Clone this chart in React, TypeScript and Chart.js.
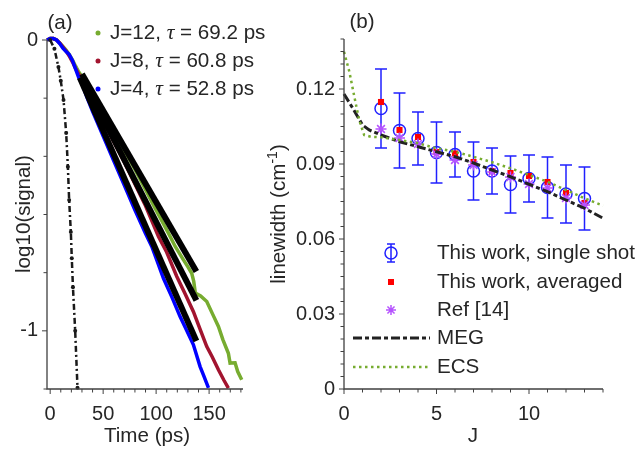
import React, { useEffect, useRef } from "react";
import { Chart, registerables } from "chart.js";
Chart.register(...registerables);

const FF = '"Liberation Sans", Arial, Helvetica, sans-serif';
const TEXT = "#262626";
const AXIS = "#404040";
const GREEN = "#77ac30";
const DRED = "#a2142f";
const BLUE = "#0000ff";
const EBLUE = "#2020ff";
const PURPLE = "#b653ff";
const LF = 20.6;

// ---------- Panel (a): decay curves ----------
const timeTickLabels = [0, 50, 100, 150];
const logTickLabels = [-1, 0];

const t12 = [-3, 0, 3, 6, 9, 12, 15, 18, 21, 24, 27, 30, 40, 50, 60, 70, 80, 90, 100, 111.6, 118, 125.8, 130, 133.6, 135.5, 137, 142, 147.8, 153, 158.8, 163, 168.2, 169.8, 174.5, 177, 180.8];
const y12 = [0, 0.005, 0.005, 0, -0.01, -0.022, -0.035, -0.05, -0.068, -0.09, -0.11, -0.125, -0.185, -0.25, -0.315, -0.38, -0.445, -0.515, -0.585, -0.664, -0.71, -0.756, -0.78, -0.802, -0.83, -0.87, -0.88, -0.899, -0.94, -0.985, -1.03, -1.077, -1.111, -1.11, -1.14, -1.168];

const t8 = [-3, 0, 3, 6, 9, 12, 15, 18, 21, 24, 27, 30, 40, 50, 60, 70, 80, 90, 102.2, 110, 119.5, 127, 135.2, 141, 147.8, 153, 158.8, 164, 168.2];
const y8 = [0, 0.005, 0.005, 0, -0.01, -0.024, -0.038, -0.055, -0.075, -0.098, -0.118, -0.135, -0.205, -0.278, -0.35, -0.42, -0.495, -0.57, -0.676, -0.73, -0.813, -0.87, -0.934, -0.99, -1.054, -1.09, -1.134, -1.17, -1.197];

const t4 = [-3, 0, 3, 6, 9, 12, 15, 18, 21, 24, 27, 30, 35, 40, 50, 60, 70, 80, 90, 95.9, 101, 107, 115, 122.6, 129, 135.2, 141.5, 145, 149.4];
const y4 = [0, 0.005, 0.005, 0, -0.012, -0.028, -0.04, -0.05, -0.07, -0.1, -0.13, -0.15, -0.2, -0.245, -0.33, -0.415, -0.5, -0.585, -0.665, -0.71, -0.76, -0.82, -0.885, -0.951, -1.0, -1.048, -1.123, -1.155, -1.196];

const fitT12 = [30, 138];
const fitY12 = [-0.117, -0.796];
const fitT8 = [30, 138];
const fitY8 = [-0.128, -0.895];
const fitT4 = [28, 138];
const fitY4 = [-0.13, -1.035];

const irfT = [0, 4, 7.8, 10, 12.6, 15.1, 16.7, 17.9, 19.5, 20.4, 21.5, 23.6, 25.8];
const irfY = [0, -0.03, -0.093, -0.14, -0.206, -0.32, -0.436, -0.55, -0.66, -0.75, -0.85, -1.0, -1.196];

const legendJ = ["J=12", "J=8", "J=4"];
const legendTau = ["69.2", "60.8", "52.8"];

// ---------- Panel (b): linewidths ----------
const Jvals = [2, 3, 4, 5, 6, 7, 8, 9, 10, 11, 12, 13];
const singleShot = [0.1122, 0.1034, 0.1002, 0.0946, 0.0938, 0.0872, 0.0872, 0.0818, 0.0842, 0.0806, 0.078, 0.0762];
const singleErr = [0.0158, 0.015, 0.0106, 0.0122, 0.009, 0.0116, 0.0092, 0.0114, 0.0094, 0.0122, 0.0116, 0.0126];
const averaged = [0.1148, 0.1036, 0.1008, 0.0948, 0.0942, 0.0908, 0.0872, 0.0864, 0.0852, 0.0828, 0.0784, 0.0744];
const ref14 = [0.104, 0.1004, 0.098, 0.094, 0.0916, 0.0896, 0.0868, 0.0848, 0.082, 0.0804, 0.0764, 0.0736];

const megJ = [0, 0.5, 1, 1.36, 2, 3, 4, 5, 6, 7, 8, 9, 10, 11, 12, 13, 14];
const megY = [0.118, 0.112, 0.1056, 0.1036, 0.1016, 0.0989, 0.0969, 0.0949, 0.0929, 0.0904, 0.0876, 0.0849, 0.0819, 0.0789, 0.0756, 0.0723, 0.0683];

const ecsJ = [0, 0.29, 0.56, 0.82, 1.09, 1.45, 2, 3, 4, 5, 6, 7, 8, 9, 10, 11, 12, 13, 14];
const ecsY = [0.1349, 0.1269, 0.1169, 0.1076, 0.1016, 0.1009, 0.1007, 0.0996, 0.0983, 0.0963, 0.0949, 0.0929, 0.0907, 0.0883, 0.0856, 0.0829, 0.0796, 0.0763, 0.0733];

const JTickLabels = [0, 5, 10];
const lwTickLabels = [0, 0.03, 0.06, 0.09, 0.12];

const legendB = ["This work, single shot", "This work, averaged", "Ref [14]", "MEG", "ECS"];

const pts = (xs: number[], ys: number[]) => xs.map((x, i) => ({ x, y: ys[i] }));

function drawAxes(chart: any, xr: [number, number, number], xMaj: number[], yr: [number, number, number], yMaj: number[]) {
  const { ctx, chartArea: ca, scales } = chart;
  const sx = scales.x, sy = scales.y;
  ctx.save();
  ctx.strokeStyle = AXIS;
  ctx.lineWidth = 1.3;
  ctx.beginPath();
  ctx.moveTo(ca.left, ca.top);
  ctx.lineTo(ca.left, ca.bottom);
  ctx.lineTo(ca.right, ca.bottom);
  ctx.stroke();
  ctx.lineWidth = 1;
  ctx.beginPath();
  const nx = Math.round((xr[1] - xr[0]) / xr[2]);
  for (let i = 0; i <= nx; i++) {
    const v = xr[0] + i * xr[2];
    const major = xMaj.some((m) => Math.abs(m - v) < 1e-9);
    const p = sx.getPixelForValue(v);
    ctx.moveTo(p, ca.bottom);
    ctx.lineTo(p, ca.bottom + (major ? 5 : 3.5));
  }
  const ny = Math.round((yr[1] - yr[0]) / yr[2]);
  for (let i = 0; i <= ny; i++) {
    const v = yr[0] + i * yr[2];
    const major = yMaj.some((m) => Math.abs(m - v) < 1e-9);
    const p = sy.getPixelForValue(v);
    ctx.moveTo(ca.left, p);
    ctx.lineTo(ca.left - (major ? 5 : 3.5), p);
  }
  ctx.stroke();
  ctx.restore();
}

function scaleOpts(min: number, max: number, ticks: number[], isY: boolean, size: number, pad: number) {
  return {
    type: "linear",
    min,
    max,
    afterBuildTicks: (s: any) => {
      s.ticks = ticks.map((v) => ({ value: v }));
    },
    afterFit: (s: any) => {
      if (isY) s.width = size;
      else s.height = size;
    },
    grid: { display: false, drawTicks: false },
    border: { display: false },
    ticks: {
      color: TEXT,
      padding: pad,
      font: { family: FF, size: 20 },
      maxRotation: 0,
      autoSkip: false,
      callback: (v: any) => String(v),
    },
  };
}

export default function App() {
  const refA = useRef<HTMLCanvasElement>(null);
  const refB = useRef<HTMLCanvasElement>(null);

  useEffect(() => {
    const lineDs = (label: string, data: any[], color: string, width: number, order: number, extra: any = {}) => ({
      label,
      data,
      showLine: true,
      borderColor: color,
      backgroundColor: color,
      borderWidth: width,
      pointRadius: 0,
      tension: 0,
      clip: false,
      order,
      ...extra,
    });

    const plugA = {
      id: "decorA",
      afterDraw(chart: any) {
        drawAxes(chart, [0, 180, 10], timeTickLabels, [-1.2, 0, 0.2], logTickLabels);
        const ctx = chart.ctx;
        ctx.save();
        ctx.fillStyle = TEXT;
        ctx.font = `${LF}px ${FF}`;
        ctx.textAlign = "center";
        ctx.textBaseline = "middle";
        ctx.fillText("(a)", 60, 23);
        ctx.textBaseline = "alphabetic";
        ctx.fillText("Time (ps)", 147, 442);
        ctx.save();
        ctx.translate(29.5, 214);
        ctx.rotate(-Math.PI / 2);
        ctx.fillText("log10(signal)", 0, 0);
        ctx.restore();
        const cols = [GREEN, DRED, BLUE];
        const rows = [33, 61, 89];
        for (let i = 0; i < 3; i++) {
          const y = rows[i];
          ctx.fillStyle = cols[i];
          ctx.beginPath();
          ctx.arc(98, y, 2.5, 0, Math.PI * 2);
          ctx.fill();
          ctx.fillStyle = TEXT;
          ctx.textAlign = "left";
          ctx.textBaseline = "middle";
          let x = 110;
          ctx.font = `${LF}px ${FF}`;
          const p1 = legendJ[i] + ", ";
          ctx.fillText(p1, x, y);
          x += ctx.measureText(p1).width;
          ctx.font = `italic 21.5px "Liberation Serif", "DejaVu Serif", serif`;
          ctx.fillText("τ", x, y);
          x += ctx.measureText("τ").width;
          ctx.font = `${LF}px ${FF}`;
          ctx.fillText(" = " + legendTau[i] + " ps", x, y);
        }
        ctx.restore();
      },
    };

    const cfgA: any = {
      type: "scatter",
      data: {
        datasets: [
          lineDs("J=12", pts(t12, y12), GREEN, 3.5, 6),
          lineDs("J=8", pts(t8, y8), DRED, 3.5, 5),
          lineDs("J=4", pts(t4, y4), BLUE, 3.5, 4),
          lineDs("fit12", pts(fitT12, fitY12), "#000", 6, 3),
          lineDs("fit8", pts(fitT8, fitY8), "#000", 6, 2),
          lineDs("fit4", pts(fitT4, fitY4), "#000", 6, 1),
          lineDs("IRF", pts(irfT, irfY), "#1a1a1a", 2.5, 0, {
            borderDash: [6, 3, 2, 3],
            pointRadius: 2,
            pointBorderWidth: 0,
            pointBackgroundColor: "#1a1a1a",
          }),
        ],
      },
      options: {
        responsive: false,
        maintainAspectRatio: false,
        animation: false,
        devicePixelRatio: 1,
        layout: { padding: { top: 40, right: 22, left: 0, bottom: 0 } },
        plugins: { legend: { display: false }, tooltip: { enabled: false } },
        scales: {
          x: scaleOpts(-3, 182, timeTickLabels, false, 60, 13),
          y: scaleOpts(-1.2, 0, logTickLabels, true, 47, 9),
        },
      },
      plugins: [plugA],
    };

    const OX = 265;
    const plugB = {
      id: "decorB",
      beforeDatasetsDraw(chart: any) {
        const { ctx, scales } = chart;
        ctx.save();
        ctx.strokeStyle = EBLUE;
        ctx.lineWidth = 1.5;
        ctx.beginPath();
        Jvals.forEach((j, i) => {
          const px = scales.x.getPixelForValue(j);
          const top = scales.y.getPixelForValue(singleShot[i] + singleErr[i]);
          const bot = scales.y.getPixelForValue(singleShot[i] - singleErr[i]);
          ctx.moveTo(px, top);
          ctx.lineTo(px, bot);
          ctx.moveTo(px - 6, top);
          ctx.lineTo(px + 6, top);
          ctx.moveTo(px - 6, bot);
          ctx.lineTo(px + 6, bot);
        });
        ctx.stroke();
        ctx.restore();
      },
      afterDraw(chart: any) {
        drawAxes(chart, [0, 14, 1], JTickLabels, [0, 0.14, 0.005], lwTickLabels);
        const ctx = chart.ctx;
        ctx.save();
        ctx.fillStyle = TEXT;
        ctx.font = `${LF}px ${FF}`;
        ctx.textAlign = "center";
        ctx.textBaseline = "middle";
        ctx.fillText("(b)", 362 - OX, 22);
        ctx.textBaseline = "alphabetic";
        ctx.fillText("J", 473 - OX, 442);
        // y title with superscript
        ctx.save();
        ctx.translate(285 - OX, 214);
        ctx.rotate(-Math.PI / 2);
        ctx.textAlign = "left";
        const s1 = "linewidth (cm";
        const s2 = "-1";
        const s3 = ")";
        ctx.font = `${LF}px ${FF}`;
        const w1 = ctx.measureText(s1).width;
        const w3 = ctx.measureText(s3).width;
        ctx.font = `14px ${FF}`;
        const w2 = ctx.measureText(s2).width;
        let x = -(w1 + w2 + w3) / 2;
        ctx.font = `${LF}px ${FF}`;
        ctx.fillText(s1, x, 0);
        x += w1;
        ctx.font = `14px ${FF}`;
        ctx.fillText(s2, x, -8);
        x += w2;
        ctx.font = `${LF}px ${FF}`;
        ctx.fillText(s3, x, 0);
        ctx.restore();

        // legend
        const mx = 391 - OX;
        const rows = [253, 282, 310, 338, 367];
        ctx.strokeStyle = EBLUE;
        ctx.lineWidth = 1.5;
        ctx.beginPath();
        ctx.moveTo(mx, rows[0] - 9);
        ctx.lineTo(mx, rows[0] + 9);
        ctx.moveTo(mx - 4, rows[0] - 9);
        ctx.lineTo(mx + 4, rows[0] - 9);
        ctx.moveTo(mx - 4, rows[0] + 9);
        ctx.lineTo(mx + 4, rows[0] + 9);
        ctx.stroke();
        ctx.beginPath();
        ctx.arc(mx, rows[0], 6, 0, Math.PI * 2);
        ctx.stroke();
        ctx.fillStyle = "#ff0000";
        ctx.fillRect(mx - 3, rows[1] - 3, 6, 6);
        ctx.strokeStyle = PURPLE;
        ctx.lineWidth = 1.5;
        ctx.beginPath();
        const r = 5;
        ctx.moveTo(mx - r, rows[2]);
        ctx.lineTo(mx + r, rows[2]);
        ctx.moveTo(mx, rows[2] - r);
        ctx.lineTo(mx, rows[2] + r);
        const d = r * Math.SQRT1_2;
        ctx.moveTo(mx - d, rows[2] - d);
        ctx.lineTo(mx + d, rows[2] + d);
        ctx.moveTo(mx - d, rows[2] + d);
        ctx.lineTo(mx + d, rows[2] - d);
        ctx.stroke();
        ctx.strokeStyle = "#222";
        ctx.lineWidth = 3;
        ctx.setLineDash([9, 3, 4, 3]);
        ctx.beginPath();
        ctx.moveTo(353 - OX, rows[3]);
        ctx.lineTo(430 - OX, rows[3]);
        ctx.stroke();
        ctx.strokeStyle = GREEN;
        ctx.lineWidth = 2.5;
        ctx.setLineDash([2.5, 3.5]);
        ctx.beginPath();
        ctx.moveTo(353 - OX, rows[4]);
        ctx.lineTo(430 - OX, rows[4]);
        ctx.stroke();
        ctx.setLineDash([]);
        ctx.fillStyle = TEXT;
        ctx.font = `${LF}px ${FF}`;
        ctx.textAlign = "left";
        ctx.textBaseline = "middle";
        legendB.forEach((s, i) => ctx.fillText(s, 437 - OX, rows[i]));
        ctx.restore();
      },
    };

    const cfgB: any = {
      type: "scatter",
      data: {
        datasets: [
          {
            label: "single",
            data: pts(Jvals, singleShot),
            pointStyle: "circle",
            pointRadius: 6,
            pointBorderWidth: 1.5,
            pointBorderColor: EBLUE,
            pointBackgroundColor: "rgba(0,0,0,0)",
            order: 5,
          },
          {
            label: "averaged",
            data: pts(Jvals, averaged),
            pointStyle: "rect",
            pointRadius: 4.3,
            pointBorderWidth: 0,
            pointBackgroundColor: "#ff0000",
            order: 4,
          },
          {
            label: "ref14",
            data: pts(Jvals, ref14),
            pointStyle: "star",
            pointRadius: 5.5,
            pointBorderWidth: 1.5,
            pointBorderColor: PURPLE,
            pointBackgroundColor: PURPLE,
            order: 3,
          },
          lineDs("MEG", pts(megJ, megY), "#222", 3, 2, { borderDash: [9, 3, 4, 3] }),
          lineDs("ECS", pts(ecsJ, ecsY), GREEN, 2.5, 1, { borderDash: [2.5, 3.5] }),
        ],
      },
      options: {
        responsive: false,
        maintainAspectRatio: false,
        animation: false,
        devicePixelRatio: 1,
        layout: { padding: { top: 39, right: 36, left: 0, bottom: 0 } },
        plugins: { legend: { display: false }, tooltip: { enabled: false } },
        scales: {
          x: scaleOpts(0, 14, JTickLabels, false, 60, 13),
          y: scaleOpts(0, 0.14, lwTickLabels, true, 79, 9),
        },
      },
      plugins: [plugB],
    };

    const a = new Chart(refA.current as HTMLCanvasElement, cfgA);
    const b = new Chart(refB.current as HTMLCanvasElement, cfgB);
    return () => {
      a.destroy();
      b.destroy();
    };
  }, []);

  return (
    <div style={{ position: "absolute", left: 0, top: 0, width: 639, height: 449, background: "#fff" }}>
      <canvas ref={refA} width={265} height={449} style={{ position: "absolute", left: 0, top: 0 }} />
      <canvas ref={refB} width={374} height={449} style={{ position: "absolute", left: 265, top: 0 }} />
    </div>
  );
}
